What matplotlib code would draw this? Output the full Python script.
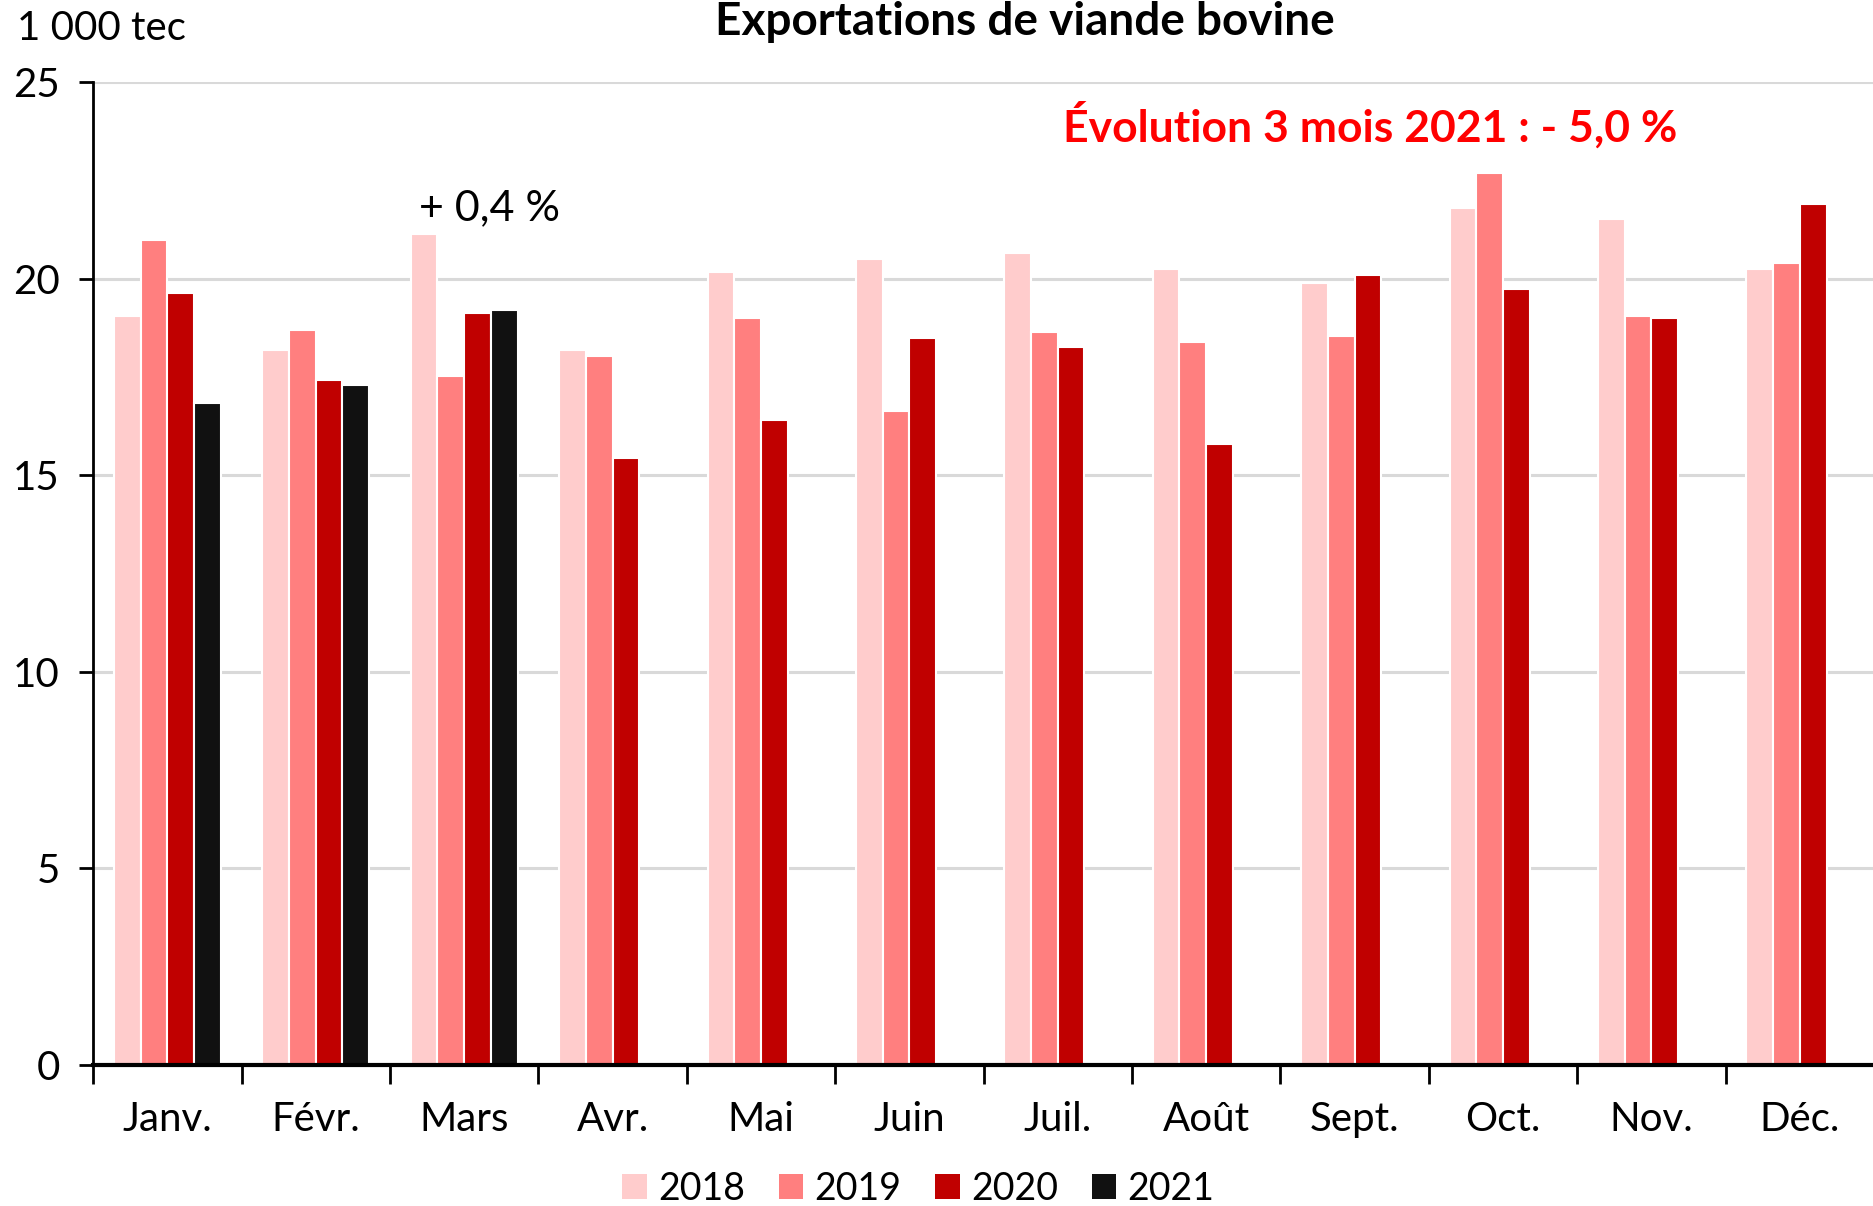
import matplotlib
matplotlib.use("Agg")
from matplotlib import pyplot as plt
from matplotlib.patches import Patch
import numpy as np

plt.rcParams['font.family'] = ['Lato', 'DejaVu Sans']

mois = ['Janv.', 'Févr.', 'Mars', 'Avr.', 'Mai', 'Juin', 'Juil.', 'Août',
        'Sept.', 'Oct.', 'Nov.', 'Déc.']
annees = ['2018', '2019', '2020', '2021']
v2018 = [19.07, 18.19, 21.14, 18.19, 20.19, 20.50, 20.65, 20.26, 19.89, 21.81, 21.53, 20.26]
v2019 = [20.98, 18.70, 17.52, 18.04, 19.01, 16.64, 18.64, 18.40, 18.55, 22.69, 19.07, 20.41]
v2020 = [19.65, 17.43, 19.13, 15.45, 16.42, 18.49, 18.28, 15.81, 20.10, 19.74, 19.01, 21.90]
v2021 = [16.85, 17.31, 19.22] + [np.nan] * 9
couleurs = ['#FFCCCC', '#FF7F7F', '#C00000', '#111111']

fig = plt.figure(figsize=(18.74, 12.06), dpi=100)
ax = fig.add_axes([0.0497, 0.117, 0.9503, 0.8146])

x = np.arange(len(mois))
w = 0.18
for i, (vals, c) in enumerate(zip([v2018, v2019, v2020, v2021], couleurs)):
    ax.bar(x + (i - 1.5) * w, vals, width=w, color=c, edgecolor='white',
           linewidth=1.5, zorder=2)

ax.set_xlim(-0.5, 11.5)
ax.set_ylim(0, 25)
ax.set_yticks([0, 5, 10, 15, 20, 25])
ax.yaxis.grid(True, color='#D9D9D9', linewidth=2.2, zorder=0)
ax.set_axisbelow(True)

ax.set_xticks(np.arange(-0.5, 12, 1))
ax.set_xticklabels([])
ax.set_xticks(x, minor=True)
ax.set_xticklabels(mois, minor=True)
ax.tick_params(axis='x', which='major', length=14, width=2, direction='out')
ax.tick_params(axis='x', which='minor', length=0, pad=26, labelsize=29)
ax.tick_params(axis='y', length=10, width=2, labelsize=29, pad=14)

for s in ['top', 'right']:
    ax.spines[s].set_visible(False)
ax.spines['left'].set_linewidth(2)
ax.spines['bottom'].set_linewidth(3)
ax.spines['bottom'].set_zorder(3)

fig.text(0.547, 0.999, 'Exportations de viande bovine', ha='center', va='top',
         fontsize=33, fontweight='bold')
fig.text(0.009, 0.992, '1 000 tec', ha='left', va='top', fontsize=29)
fig.text(0.731, 0.896, 'Évolution 3 mois 2021 : - 5,0 %', ha='center', va='center',
         fontsize=32, fontweight='bold', color='#FF0000')
ax.text(2.17, 21.8, '+ 0,4 %', ha='center', va='center', fontsize=31)

handles = [Patch(facecolor=c, label=a) for c, a in zip(couleurs, annees)]
fig.legend(handles=handles, loc='center', bbox_to_anchor=(0.49, 0.014),
           ncol=4, frameon=False, fontsize=27, handlelength=0.65, handleheight=0.65,
           handletextpad=0.3, columnspacing=0.9, borderaxespad=0)

fig.savefig('out.png', dpi=100)
